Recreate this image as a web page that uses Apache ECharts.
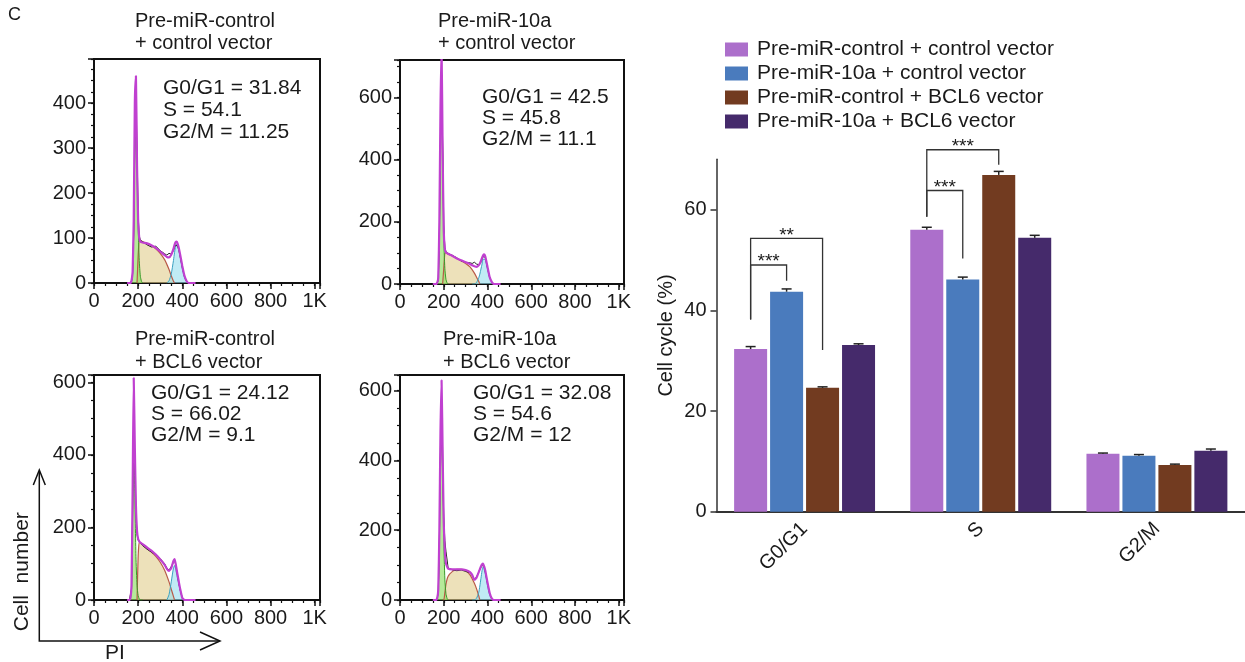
<!DOCTYPE html>
<html>
<head>
<meta charset="utf-8">
<script src="https://cdn.jsdelivr.net/npm/echarts@6.0.0/dist/echarts.min.js"></script>
<style>
  html, body { margin: 0; padding: 0; background: #fff; }
  #main { width: 1245px; height: 662px; }
</style>
</head>
<body>
<div id="main"></div>
<script>
// 细胞周期: 4 个流式直方图 + 右侧分组柱状图
const FONT = '"Liberation Sans", Arial, sans-serif'
const INK = '#1a1a1a'

// ---------- 直方图数据 ----------
const panelTitles = [
  ['Pre-miR-control', '+ control vector'],
  ['Pre-miR-10a', '+ control vector'],
  ['Pre-miR-control', '+ BCL6 vector'],
  ['Pre-miR-10a', '+ BCL6 vector']
]
const g0g1Pct = [31.84, 42.5, 24.12, 32.08]
const sPct = [54.1, 45.8, 66.02, 54.6]
const g2mPct = [11.25, 11.1, 9.1, 12]
const yMaxes = [498, 720, 620, 645]
const yIntervals = [100, 200, 200, 200]
const yMinorSteps = [25, 50, 50, 50]

const fitX = [150, 160, 165, 170, 175, 180, 185, 190, 195, 200, 205, 210, 220, 240, 260, 280, 300, 320, 330, 340, 350, 360, 365, 370, 375, 380, 385, 390, 400, 410, 420, 430, 440, 460]
const p1Fit = [0, 0, 0, 5, 25, 140, 400, 460, 260, 140, 100, 92, 90, 88, 84, 78, 70, 62, 58, 57, 63, 76, 85, 91, 92, 86, 76, 64, 38, 16, 4, 0, 0, 0]
const p1Raw = [0, 0, 0, 3, 20, 110, 330, 410, 300, 150, 105, 95, 92, 85, 80, 82, 72, 65, 62, 66, 64, 72, 80, 85, 84, 80, 72, 60, 35, 14, 3, 0, 0, 0]
const p2Fit = [0, 0, 0, 4, 20, 200, 560, 760, 420, 170, 112, 102, 97, 90, 82, 76, 70, 64, 60, 57, 55, 60, 66, 74, 84, 92, 95, 88, 55, 22, 6, 0, 0, 0]
const p2Raw = [0, 0, 0, 3, 15, 170, 480, 640, 450, 190, 118, 104, 98, 92, 84, 74, 70, 68, 66, 70, 64, 62, 64, 70, 80, 88, 90, 86, 52, 20, 5, 0, 0, 0]
const p3Fit = [0, 0, 5, 40, 300, 612, 420, 260, 190, 168, 162, 158, 154, 145, 136, 125, 112, 97, 86, 80, 88, 108, 113, 100, 82, 65, 48, 32, 6, 0, 0, 0, 0, 0]
const p3Raw = [0, 0, 4, 30, 250, 500, 380, 240, 180, 165, 160, 156, 150, 140, 132, 124, 114, 100, 88, 82, 92, 104, 110, 98, 80, 62, 44, 28, 5, 0, 0, 0, 0, 0]
const p4Fit = [0, 0, 0, 5, 30, 200, 480, 630, 420, 220, 140, 105, 90, 88, 88, 88, 86, 80, 72, 58, 64, 80, 88, 96, 102, 104, 96, 84, 50, 20, 4, 0, 0, 0]
const p4Raw = [0, 0, 0, 4, 25, 170, 420, 500, 360, 240, 170, 140, 92, 86, 84, 86, 82, 78, 70, 60, 66, 80, 88, 94, 98, 100, 94, 80, 48, 18, 4, 0, 0, 0]

const g1X = [165, 170, 175, 180, 185, 190, 195, 200, 205, 210, 215, 220]
const p1G1 = [0, 4, 25, 120, 290, 350, 260, 130, 50, 15, 4, 0]
const p2G1 = [0, 3, 15, 140, 420, 650, 420, 150, 50, 15, 4, 0]
const p3G1 = [2, 30, 240, 480, 300, 120, 40, 12, 3, 0, 0, 0]
const p4G1 = [0, 4, 25, 160, 440, 570, 420, 180, 60, 18, 5, 0]

const sX = [195, 200, 205, 210, 220, 240, 260, 280, 300, 320, 340, 350, 360, 365]
const p1S = [0, 60, 95, 94, 92, 88, 83, 76, 66, 52, 30, 16, 4, 0]
const p2S = [0, 50, 98, 100, 96, 90, 82, 74, 66, 55, 35, 22, 8, 0]
const p3S = [0, 120, 160, 158, 152, 142, 132, 120, 104, 82, 50, 30, 10, 0]
const p4S = [0, 0, 20, 45, 68, 82, 88, 88, 84, 72, 48, 32, 12, 0]

const g2X = [330, 340, 350, 360, 365, 370, 375, 380, 390, 400, 410, 420, 430]
const p1G2 = [0, 5, 20, 50, 68, 82, 86, 82, 60, 32, 12, 3, 0]
const p2G2 = [0, 0, 5, 20, 32, 48, 64, 80, 78, 48, 20, 6, 0]
const p3G2 = [0, 15, 50, 88, 95, 85, 70, 55, 30, 8, 0, 0, 0]
const p4G2 = [0, 0, 5, 22, 40, 62, 84, 95, 75, 42, 14, 3, 0]

const fits = [p1Fit, p2Fit, p3Fit, p4Fit]
const raws = [p1Raw, p2Raw, p3Raw, p4Raw]
const g1s = [p1G1, p2G1, p3G1, p4G1]
const ss = [p1S, p2S, p3S, p4S]
const g2s = [p1G2, p2G2, p3G2, p4G2]

// ---------- 柱状图数据 ----------
const phases = ['G0/G1', 'S', 'G2/M']
const groupNames = [
  'Pre-miR-control + control vector',
  'Pre-miR-10a + control vector',
  'Pre-miR-control + BCL6 vector',
  'Pre-miR-10a + BCL6 vector'
]
const ctrlCtrl = [32.3, 56.0, 11.5]
const miCtrl = [43.7, 46.1, 11.1]
const ctrlBcl6 = [24.6, 66.9, 9.3]
const miBcl6 = [33.1, 54.4, 12.1]
const ctrlCtrlErr = [0.5, 0.5, 0.15]
const miCtrlErr = [0.55, 0.5, 0.25]
const ctrlBcl6Err = [0.2, 0.7, 0.15]
const miBcl6Err = [0.25, 0.5, 0.35]
// [phase, from group, to group, bracket y, left leg end, right leg end, label]
const brackets = [
  [0, 0, 1, 49.0, 38.2, 45.9, '***'],
  [0, 0, 2, 54.3, 38.2, 32.1, '**'],
  [1, 0, 1, 63.8, 58.6, 50.3, '***'],
  [1, 0, 2, 71.9, 58.6, 68.9, '***']
]

const barVals = [ctrlCtrl, miCtrl, ctrlBcl6, miBcl6]
const barErrs = [ctrlCtrlErr, miCtrlErr, ctrlBcl6Err, miBcl6Err]
const barColors = ['#AC6FCB', '#4A7BBD', '#723B20', '#452A6B']

// 布局
const boxes = [
  { left: 94, top: 59, width: 226, height: 224 },
  { left: 400, top: 60, width: 224, height: 224 },
  { left: 94, top: 375, width: 226, height: 225 },
  { left: 400, top: 375, width: 224, height: 225 }
]
const titlePos = [[135, 21, 43], [438, 21, 43], [135, 339, 362], [443, 339, 362]]
const notePos = [[163, 88, 22], [482, 97, 21], [151, 393, 21], [473, 393, 21]]

const CAT_GAP = 0.2
const BAR_GAP = 0.09
function barOffset(band, j) {
  const n = 4
  const usable = band * (1 - CAT_GAP)
  const bw = usable / (n + (n - 1) * BAR_GAP)
  return -usable / 2 + j * bw * (1 + BAR_GAP) + bw / 2
}

const grids = []
const xAxes = []
const yAxes = []
const series = []
const graphics = []

function txt(x, y, text, size, extra) {
  return Object.assign({
    type: 'text', x: x, y: y, silent: true,
    style: { text: text, fontSize: size, fontFamily: FONT, fill: INK, align: 'left', verticalAlign: 'middle' }
  }, extra || {})
}

boxes.forEach((b, i) => {
  grids.push(Object.assign({ show: true, borderColor: '#111', borderWidth: 2, backgroundColor: 'transparent' }, b))
  const xi = xAxes.length
  const yi = yAxes.length
  // 主刻度
  xAxes.push({
    type: 'value', gridIndex: i, min: 0, max: 1024, interval: 200, position: 'bottom',
    axisLine: { lineStyle: { color: '#111', width: 2 } },
    axisTick: { length: 6, lineStyle: { color: '#111', width: 1.5 } },
    axisLabel: {
      fontSize: 20, fontFamily: FONT, color: INK, margin: 8,
      formatter: v => (v % 200 ? '' : (v === 1000 ? '1K' : String(v)))
    },
    splitLine: { show: false }
  })
  // 次刻度
  xAxes.push({
    type: 'value', gridIndex: i, min: 0, max: 1024, interval: 50, position: 'bottom',
    axisLine: { show: false },
    axisTick: { length: 3, lineStyle: { color: '#111', width: 1.2 } },
    axisLabel: { show: false },
    splitLine: { show: false }
  })
  const step = yIntervals[i]
  yAxes.push({
    type: 'value', gridIndex: i, min: 0, max: yMaxes[i], interval: step, position: 'left',
    axisLine: { show: true, lineStyle: { color: '#111', width: 2 } },
    axisTick: { show: true, length: 6, lineStyle: { color: '#111', width: 1.5 } },
    axisLabel: {
      fontSize: 20, fontFamily: FONT, color: INK, margin: 8,
      formatter: v => (v % step ? '' : String(v))
    },
    splitLine: { show: false }
  })
  yAxes.push({
    type: 'value', gridIndex: i, min: 0, max: yMaxes[i], interval: yMinorSteps[i], position: 'left',
    axisLine: { show: false },
    axisTick: { show: true, length: 3, lineStyle: { color: '#111', width: 1.2 } },
    axisLabel: { show: false },
    splitLine: { show: false }
  })

  const base = { type: 'line', xAxisIndex: xi, yAxisIndex: yi, symbol: 'none', silent: true }
  series.push(Object.assign({}, base, {
    data: sX.map((x, k) => [x, ss[i][k]]), smooth: 0.2,
    lineStyle: { color: '#b85a48', width: 1.2 },
    areaStyle: { color: 'rgba(224,204,140,0.85)' }
  }))
  series.push(Object.assign({}, base, {
    data: g2X.map((x, k) => [x, g2s[i][k]]), smooth: 0.2,
    lineStyle: { color: '#3aa0c0', width: 1 },
    areaStyle: { color: 'rgba(150,222,238,0.85)' }
  }))
  series.push(Object.assign({}, base, {
    data: g1X.map((x, k) => [x, g1s[i][k]]), smooth: 0.2,
    lineStyle: { color: '#3a9a2a', width: 1 },
    areaStyle: { color: 'rgba(140,222,95,0.9)' }
  }))
  series.push(Object.assign({}, base, {
    data: fitX.map((x, k) => [x, raws[i][k]]),
    lineStyle: { color: '#222', width: 1 }
  }))
  series.push(Object.assign({}, base, {
    data: fitX.map((x, k) => [x, fits[i][k]]), smooth: 0.15,
    lineStyle: { color: '#c040d0', width: 2.2 }
  }))

  const tp = titlePos[i]
  graphics.push(txt(tp[0], tp[1], panelTitles[i][0], 20))
  graphics.push(txt(tp[0], tp[2], panelTitles[i][1], 20))
  const np = notePos[i]
  graphics.push(txt(np[0], np[1], 'G0/G1 = ' + g0g1Pct[i], 21))
  graphics.push(txt(np[0], np[1] + np[2], 'S = ' + sPct[i], 21))
  graphics.push(txt(np[0], np[1] + 2 * np[2], 'G2/M = ' + g2mPct[i], 21))
})

// 右侧柱状图
const bg = grids.length
grids.push({ left: 716.5, top: 159.3, right: 0, height: 352.4 })
const bx = xAxes.length
const by = yAxes.length
xAxes.push({
  type: 'category', gridIndex: bg, data: phases,
  axisLine: { lineStyle: { color: '#333', width: 2 } },
  axisTick: { alignWithLabel: true, length: 6, lineStyle: { color: '#333', width: 1.5 } },
  axisLabel: { rotate: 45, fontSize: 20, fontFamily: FONT, color: INK, margin: 14 }
})
yAxes.push({
  type: 'value', gridIndex: bg, min: 0, max: 70, interval: 20,
  name: 'Cell cycle (%)', nameLocation: 'middle', nameGap: 40,
  nameTextStyle: { fontSize: 20, fontFamily: FONT, color: INK },
  axisLine: { show: true, lineStyle: { color: '#333', width: 1.5 } },
  axisTick: { show: true, length: 6, lineStyle: { color: '#333', width: 1.5 }, customValues: [0, 20, 40, 60] },
  axisLabel: { fontSize: 20, fontFamily: FONT, color: INK, margin: 10, customValues: [0, 20, 40, 60] },
  splitLine: { show: false }
})

barVals.forEach((vals, j) => {
  series.push({
    name: groupNames[j], type: 'bar', xAxisIndex: bx, yAxisIndex: by,
    barCategoryGap: (CAT_GAP * 100) + '%', barGap: (BAR_GAP * 100) + '%',
    itemStyle: { color: barColors[j] },
    data: vals
  })
})
barVals.forEach((vals, j) => {
  series.push({
    type: 'custom', xAxisIndex: bx, yAxisIndex: by, silent: true, z: 5,
    data: vals.map((v, k) => [k, v, barErrs[j][k]]),
    renderItem: (params, api) => {
      const cat = api.value(0)
      const v = api.value(1)
      const e = api.value(2)
      const band = api.size([1, 0])[0]
      const p0 = api.coord([cat, v])
      const p1 = api.coord([cat, v + e])
      const x = p0[0] + barOffset(band, j)
      const st = { stroke: '#222', lineWidth: 1.5 }
      return {
        type: 'group',
        children: [
          { type: 'line', shape: { x1: x, y1: p0[1], x2: x, y2: p1[1] }, style: st },
          { type: 'line', shape: { x1: x - 5, y1: p1[1], x2: x + 5, y2: p1[1] }, style: st }
        ]
      }
    }
  })
})
series.push({
  type: 'custom', xAxisIndex: bx, yAxisIndex: by, silent: true, clip: false, z: 6,
  data: brackets.map(b => [b[0], b[3]]),
  renderItem: (params, api) => {
    const b = brackets[params.dataIndex]
    const band = api.size([1, 0])[0]
    const cx = api.coord([b[0], 0])[0]
    const xl = cx + barOffset(band, b[1])
    const xr = cx + barOffset(band, b[2])
    const yLine = api.coord([b[0], b[3]])[1]
    const yl = api.coord([b[0], b[4]])[1]
    const yr = api.coord([b[0], b[5]])[1]
    return {
      type: 'group',
      children: [
        {
          type: 'polyline',
          shape: { points: [[xl, yl], [xl, yLine], [xr, yLine], [xr, yr]] },
          style: { stroke: '#333', lineWidth: 1.3, fill: null }
        },
        {
          type: 'text', x: (xl + xr) / 2, y: yLine - 3,
          style: { text: b[6], fontSize: 19, fontFamily: FONT, fill: INK, align: 'center', verticalAlign: 'middle' }
        }
      ]
    }
  }
})

// 面板字母与坐标箭头
graphics.push(txt(8, 15, 'C', 18))
graphics.push(txt(22.7, 571.7, 'Cell  number', 21, { rotation: Math.PI / 2, style: { text: 'Cell  number', fontSize: 21, fontFamily: FONT, fill: INK, align: 'center', verticalAlign: 'middle' } }))
graphics.push(txt(115, 653, 'PI', 21, { style: { text: 'PI', fontSize: 21, fontFamily: FONT, fill: INK, align: 'center', verticalAlign: 'middle' } }))
const arrowStyle = { stroke: '#111', lineWidth: 1.5, fill: null }
graphics.push({ type: 'polyline', silent: true, shape: { points: [[39.3, 471], [39.3, 641], [219, 641]] }, style: arrowStyle })
graphics.push({ type: 'polyline', silent: true, shape: { points: [[33.3, 485], [39.3, 470], [45.3, 485]] }, style: arrowStyle })
graphics.push({ type: 'polyline', silent: true, shape: { points: [[200, 632], [220, 641], [200, 650]] }, style: arrowStyle })

const myChart = echarts.init(document.getElementById('main'))
const option = {
  animation: false,
  backgroundColor: '#fff',
  textStyle: { fontFamily: FONT },
  legend: {
    data: groupNames, orient: 'vertical', left: 725, top: 39, padding: 0,
    itemWidth: 23, itemHeight: 14, itemGap: 3, icon: 'rect',
    selectedMode: false,
    textStyle: { fontSize: 21, fontFamily: FONT, color: INK, padding: [0, 0, 0, 4] }
  },
  grid: grids,
  xAxis: xAxes,
  yAxis: yAxes,
  series: series,
  graphic: graphics
}
myChart.setOption(option)
</script>
</body>
</html>
